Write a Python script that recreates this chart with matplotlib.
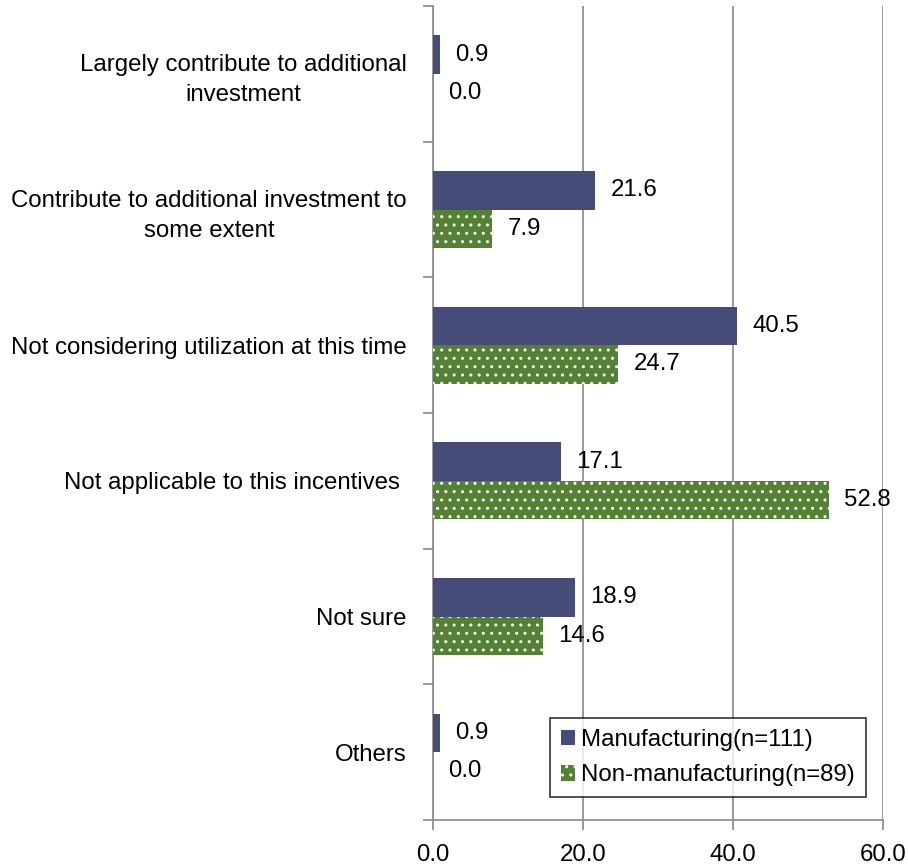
import matplotlib
matplotlib.use("Agg")
import matplotlib.pyplot as plt
import numpy as np

plt.rcParams['font.family'] = ["Liberation Sans", "DejaVu Sans"]
plt.rcParams['hatch.linewidth'] = 1.0

categories = ["Largely contribute to additional\ninvestment",
              "Contribute to additional investment to\nsome extent",
              "Not considering utilization at this time",
              "Not applicable to this incentives ",
              "Not sure",
              "Others"]
manufacturing = [0.9, 21.6, 40.5, 17.1, 18.9, 0.9]
non_manufacturing = [0.0, 7.9, 24.7, 52.8, 14.6, 0.0]
series_names = ["Manufacturing(n=111)", "Non-manufacturing(n=89)"]
xticks = [0, 20, 40, 60]

fig = plt.figure(figsize=(9.08, 8.67), dpi=100)
ax = fig.add_axes([433/908, 1-820/867, 450/908, 814/867])

n = len(categories)
y = np.arange(n)
h = 0.285
navy = "#474B78"
green = "#548235"
fs = 17.3

b1 = ax.barh(y - h/2, manufacturing, height=h, color=navy, label=series_names[0], zorder=3)
b2 = ax.barh(y + h/2, non_manufacturing, height=h, color=green, edgecolor="white",
             hatch="..", linewidth=0, label=series_names[1], zorder=3)

for bars, vals in ((b1, manufacturing), (b2, non_manufacturing)):
    for r, v in zip(bars, vals):
        ax.annotate(f"{v:.1f}", (v, r.get_y() + r.get_height()/2), xytext=(11, 0),
                    textcoords="offset points", ha="left", va="center", fontsize=fs)

ax.set_xlim(0, 60)
ax.set_ylim(n - 0.5, -0.5)
ax.set_xticks(xticks)
ax.set_xticklabels([f"{t:.1f}" for t in xticks], fontsize=fs)
ax.set_yticks(np.arange(n + 1) - 0.5, minor=False)
ax.set_yticklabels([])
ax.set_yticks(y, minor=True)
ax.set_yticklabels(categories, minor=True, fontsize=fs, ha="right", multialignment="center",
                   linespacing=1.45)
ax.tick_params(axis="y", which="minor", length=0, pad=19)
ax.tick_params(axis="y", which="major", length=7, color="#888888", width=1.2)
ax.tick_params(axis="x", length=7, color="#888888", width=1.2, pad=10)
ax.xaxis.grid(True, color="#888888", linewidth=1.2, zorder=0)
for s in ["top", "right"]:
    ax.spines[s].set_visible(False)
for s in ["left", "bottom"]:
    ax.spines[s].set_color("#888888")
    ax.spines[s].set_linewidth(1.2)

leg = ax.legend(loc="lower right", bbox_to_anchor=(0.962, 0.028), fontsize=fs, frameon=True,
                fancybox=False, edgecolor="black", handlelength=0.6, handleheight=0.6,
                handletextpad=0.25, borderpad=0.45, labelspacing=0.55, borderaxespad=0)
leg.get_frame().set_linewidth(1.2)

fig.savefig("out.png", dpi=100)
